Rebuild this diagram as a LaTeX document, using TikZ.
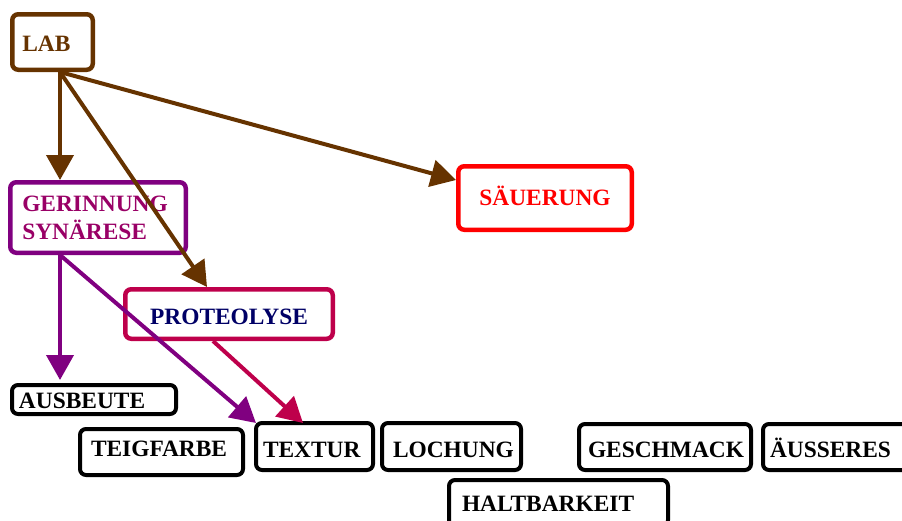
\documentclass[tikz,border=0pt]{standalone}
\usepackage{fontspec}
\setmainfont{Liberation Serif}
\usetikzlibrary{arrows.meta}

\definecolor{labbrown}{RGB}{102,51,0}
\definecolor{gerpurple}{RGB}{128,0,128}
\definecolor{gertext}{RGB}{153,0,102}
\definecolor{procrimson}{RGB}{190,0,75}
\definecolor{pronavy}{RGB}{0,0,102}

\begin{document}
\begin{tikzpicture}
[
x=1pt, y=-1pt,
Box/.style={rectangle, draw, rounded corners=6pt, line width=4.5pt, anchor=north west,
  font=\fontsize{23.4}{28}\selectfont\bfseries, inner ysep=0pt, align=left},
OneLine/.style 2 args={text height=#1, text depth=#2},
Result/.style={Box, draw=black, line width=4pt, text=black},
BrownArrow/.style={-{Triangle[length=25pt,width=27pt]}, line width=4pt, draw=labbrown},
PurpleArrow/.style={-{Triangle[length=25pt,width=27pt]}, line width=4pt, draw=gerpurple},
CrimsonArrow/.style={-{Triangle[length=25pt,width=27pt]}, line width=4pt, draw=procrimson},
]

\useasboundingbox (0,0) rectangle (902,520);

% causes
\node[Box, OneLine={19.4pt}{0pt}, draw=labbrown, text=labbrown, inner xsep=10pt, text width=60.5pt, minimum height=55.5pt] (lab) at (10,12) {LAB};
\node[Box, draw=gerpurple, text=gertext, inner xsep=12pt, text width=151.5pt, minimum height=70.5pt] (ger) at (8,180) {GERINNUNG\\SYN\"ARESE};
\node[Box, OneLine={20pt}{0pt}, draw=procrimson, text=pronavy, align=center, minimum width=207.5pt, minimum height=49.5pt] (pro) at (123,287) {PROTEOLYSE};
\node[Box, OneLine={16pt}{2pt}, draw=red, text=red, align=center, minimum width=173.5pt, minimum height=63.5pt] (sae) at (456,164) {S\"AUERUNG};

% results
\node[Result, OneLine={17pt}{0pt}, inner xsep=7pt, text width=150pt, minimum height=29pt] (aus) at (10,383) {AUSBEUTE};
\node[Result, OneLine={16pt}{8pt}, inner xsep=11pt, text width=141pt, minimum height=46pt] (tei) at (78,427) {TEIGFARBE};
\node[Result, OneLine={21pt}{0pt}, inner xsep=7pt, text width=103pt, minimum height=47pt] (tex) at (254,421) {TEXTUR};
\node[Result, OneLine={21pt}{0pt}, inner xsep=11pt, text width=117pt, minimum height=47pt] (loc) at (380,421) {LOCHUNG};
\node[Result, OneLine={20pt}{0pt}, inner xsep=9pt, text width=154pt, minimum height=46pt] (ges) at (577,422) {GESCHMACK};
\node[Result, OneLine={20pt}{0pt}, inner xsep=7pt, text width=138pt, minimum height=46pt] (aeu) at (761,422) {\"AUSSERES};
\node[Result, OneLine={16pt}{0pt}, inner xsep=13pt, text width=193pt, minimum height=46pt] (hal) at (447,478) {HALTBARKEIT};

\draw[BrownArrow] ([xshift=50pt]lab.south west) -- ([xshift=52pt]ger.north west);
\draw[BrownArrow] ([xshift=50pt]lab.south west) -- ([xshift=84pt]pro.north west);
\draw[BrownArrow] ([xshift=50pt]lab.south west) -- ([yshift=18pt]sae.west);

\draw[PurpleArrow] ([xshift=52pt]ger.south west) -- ([xshift=50pt,yshift=3pt]aus.north west);
\draw[PurpleArrow] ([xshift=52pt]ger.south west) -- ([xshift=2pt,yshift=-2pt]tex.north west);

\draw[CrimsonArrow] ([xshift=90pt]pro.south west) -- ([xshift=49pt,yshift=-2pt]tex.north west);

\end{tikzpicture}
\end{document}
